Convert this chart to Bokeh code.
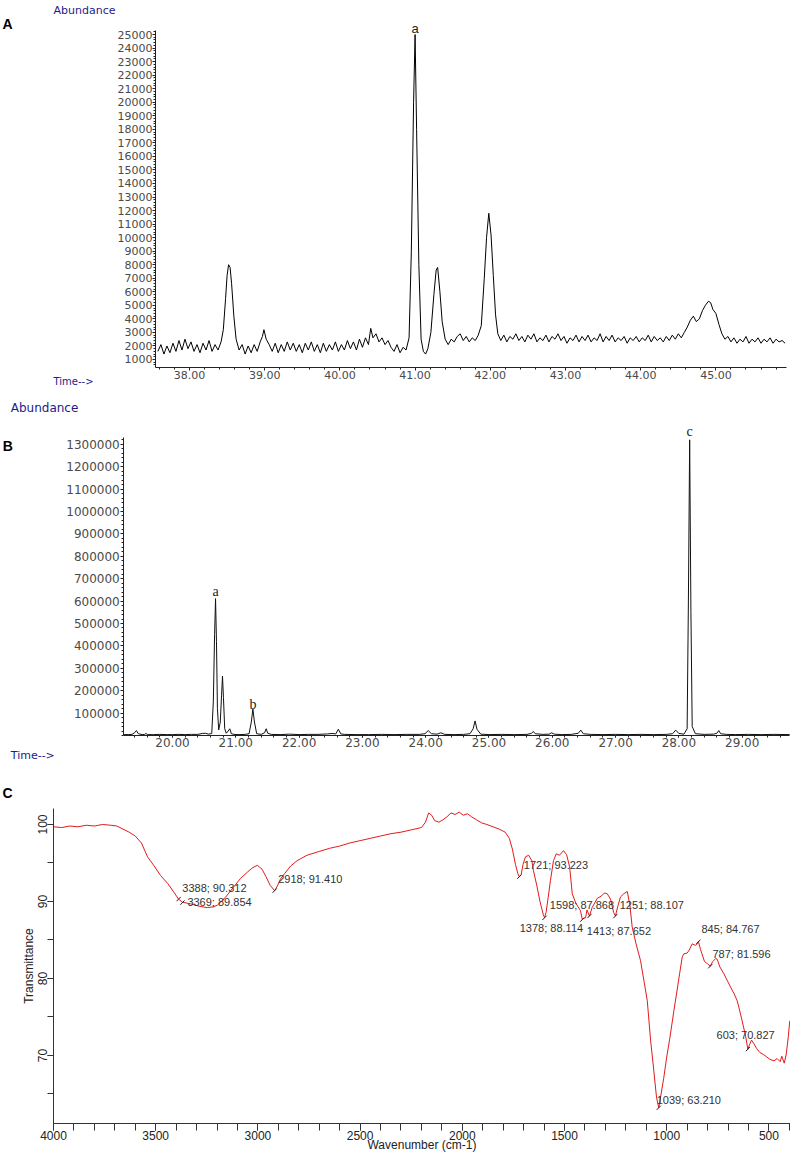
from bokeh.plotting import figure
from bokeh.layouts import column
from bokeh.models import (Range1d, SingleIntervalTicker, FixedTicker,
                          NumeralTickFormatter, Label)
from bokeh.embed import file_html
from bokeh.resources import INLINE
from bokeh.core.properties import value

# ---------------- Panel A : GC-MS chromatogram (38-46 min) ----------------
a_time = [
    37.58, 37.62, 37.66, 37.70, 37.74, 37.78, 37.82, 37.86, 37.90, 37.94,
    37.98, 38.02, 38.06, 38.10, 38.14, 38.18, 38.22, 38.26, 38.30, 38.34,
    38.38, 38.42, 38.45, 38.48, 38.50, 38.52, 38.54, 38.56, 38.59, 38.62,
    38.66, 38.70, 38.74, 38.78, 38.82, 38.86, 38.90, 38.94, 38.97, 38.99,
    39.02, 39.06, 39.10, 39.14, 39.18, 39.22, 39.26, 39.30, 39.34, 39.38,
    39.42, 39.46, 39.50, 39.54, 39.58, 39.62, 39.66, 39.70, 39.74, 39.78,
    39.82, 39.86, 39.90, 39.94, 39.98, 40.02, 40.06, 40.10, 40.14, 40.18,
    40.22, 40.26, 40.30, 40.34, 40.38, 40.41, 40.44, 40.48, 40.52, 40.56,
    40.60, 40.64, 40.68, 40.72, 40.76, 40.80, 40.84, 40.88, 40.92, 40.95,
    40.98, 41.00, 41.02, 41.05, 41.08, 41.11, 41.14, 41.17, 41.21, 41.25,
    41.28, 41.30, 41.33, 41.36, 41.40, 41.44, 41.48, 41.52, 41.56, 41.60,
    41.64, 41.68, 41.72, 41.76, 41.80, 41.84, 41.88, 41.92, 41.95, 41.98,
    42.01, 42.04, 42.07, 42.10, 42.14, 42.18, 42.22, 42.26, 42.30, 42.34,
    42.38, 42.42, 42.46, 42.50, 42.54, 42.58, 42.62, 42.66, 42.70, 42.74,
    42.78, 42.82, 42.86, 42.90, 42.94, 42.98, 43.02, 43.06, 43.10, 43.14,
    43.18, 43.22, 43.26, 43.30, 43.34, 43.38, 43.42, 43.46, 43.50, 43.54,
    43.58, 43.62, 43.66, 43.70, 43.74, 43.78, 43.82, 43.86, 43.90, 43.94,
    43.98, 44.02, 44.06, 44.10, 44.14, 44.18, 44.22, 44.26, 44.30, 44.34,
    44.38, 44.42, 44.46, 44.50, 44.54, 44.58, 44.62, 44.66, 44.70, 44.74,
    44.78, 44.82, 44.86, 44.90, 44.93, 44.96, 45.00, 45.04, 45.08, 45.12,
    45.16, 45.20, 45.24, 45.28, 45.32, 45.36, 45.40, 45.44, 45.48, 45.52,
    45.56, 45.60, 45.64, 45.68, 45.72, 45.76, 45.80, 45.84, 45.88, 45.92,
]
a_abund = [
    1600, 2100, 1400, 2000, 1500, 2200, 1600, 2400, 1700, 2500,
    1800, 2300, 1600, 2100, 1500, 2200, 1700, 2400, 1600, 2100,
    1700, 2300, 3200, 5500, 7200, 8000, 7800, 6600, 4200, 2500,
    1700, 2100, 1400, 2000, 1500, 2100, 1600, 2300, 2700, 3200,
    2500, 2100, 1600, 2200, 1500, 2100, 1600, 2300, 1700, 2200,
    1600, 2100, 1500, 2200, 1700, 2300, 1600, 2100, 1500, 2200,
    1600, 2100, 1700, 2300, 1600, 2100, 1700, 2400, 1800, 2300,
    1700, 2500, 1900, 2600, 2100, 3300, 2600, 2900, 2300, 2600,
    2100, 2400, 1900, 1600, 2100, 1500, 1900, 1700, 2600, 9000,
    20000, 25000, 18000, 8000, 2500, 1600, 1400, 1800, 3000, 5800,
    7600, 7800, 6000, 3800, 2500, 2100, 2500, 2300, 2700, 2900,
    2400, 2700, 2300, 2600, 2400, 2800, 3500, 7000, 10000, 11800,
    10200, 7200, 4300, 2900, 2400, 2800, 2300, 2700, 2500, 2900,
    2400, 2700, 2300, 2800, 2500, 2900, 2300, 2600, 2400, 2800,
    2300, 2700, 2500, 2900, 2400, 2700, 2200, 2600, 2400, 2800,
    2300, 2700, 2400, 2800, 2300, 2600, 2400, 2900, 2300, 2700,
    2400, 2800, 2300, 2600, 2400, 2700, 2200, 2600, 2400, 2700,
    2300, 2600, 2400, 2800, 2300, 2700, 2400, 2600, 2300, 2700,
    2400, 2800, 2500, 2900, 2600, 3000, 3400, 3900, 4200, 3800,
    4000, 4600, 5000, 5300, 5200, 4700, 4400, 3600, 2900, 2500,
    2700, 2300, 2600, 2200, 2500, 2300, 2700, 2200, 2500, 2300,
    2600, 2200, 2500, 2300, 2600, 2200, 2500, 2300, 2400, 2200,
]
a_peak_time = [41.00]
a_peak_abund = [25000]
a_peak_name = ["a"]

# ---------------- Panel B : GC-MS chromatogram (19-30 min) ----------------
b_time = [
    19.23, 19.30, 19.36, 19.40, 19.43, 19.46, 19.52, 19.56, 19.58, 19.61,
    19.70, 19.80, 19.90, 20.00, 20.10, 20.20, 20.30, 20.40, 20.47, 20.52,
    20.57, 20.62, 20.645, 20.665, 20.68, 20.695, 20.71, 20.73, 20.755, 20.775,
    20.79, 20.805, 20.825, 20.85, 20.88, 20.905, 20.93, 20.97, 21.05, 21.15,
    21.21, 21.245, 21.27, 21.295, 21.33, 21.40, 21.455, 21.48, 21.505, 21.56,
    21.70, 21.85, 22.00, 22.15, 22.30, 22.45, 22.52, 22.58, 22.62, 22.66,
    22.72, 22.90, 23.10, 23.30, 23.50, 23.70, 23.90, 23.99, 24.04, 24.09,
    24.18, 24.24, 24.30, 24.45, 24.60, 24.70, 24.75, 24.78, 24.81, 24.87,
    25.00, 25.20, 25.40, 25.60, 25.67, 25.70, 25.73, 25.85, 25.95, 25.99,
    26.03, 26.15, 26.30, 26.41, 26.45, 26.49, 26.60, 26.80, 27.00, 27.20,
    27.40, 27.60, 27.80, 27.90, 27.95, 28.00, 28.08, 28.13, 28.15, 28.17,
    28.19, 28.21, 28.26, 28.40, 28.55, 28.60, 28.63, 28.66, 28.75, 28.90,
    29.10, 29.30, 29.50, 29.75,
]
b_abund = [
    4000, 4000, 5000, 12000, 22000, 8000, 4000, 5000, 9000, 4000,
    4000, 5000, 4000, 4000, 5000, 4000, 5000, 5000, 9000, 10000,
    6000, 9000, 150000, 450000, 611000, 420000, 120000, 25000, 60000, 180000,
    265000, 170000, 30000, 10000, 20000, 30000, 8000, 5000, 4000, 5000,
    8000, 60000, 118000, 60000, 8000, 5000, 12000, 30000, 10000, 5000,
    4000, 6000, 4000, 5000, 5000, 7000, 9000, 7000, 28000, 7000,
    5000, 4000, 4000, 5000, 4000, 5000, 5000, 8000, 22000, 8000,
    6000, 12000, 5000, 4000, 5000, 8000, 30000, 65000, 28000, 6000,
    4000, 5000, 4000, 5000, 9000, 18000, 8000, 5000, 6000, 12000,
    6000, 4000, 5000, 10000, 24000, 8000, 5000, 4000, 5000, 4000,
    5000, 4000, 5000, 8000, 24000, 9000, 6000, 30000, 600000, 1320000,
    550000, 40000, 8000, 5000, 6000, 10000, 22000, 8000, 5000, 4000,
    5000, 4000, 5000, 4000,
]
b_peak_time = [20.68, 21.27, 28.17]
b_peak_abund = [611000, 118000, 1320000]
b_peak_name = ["a", "b", "c"]

# ---------------- Panel C : FTIR spectrum ----------------
c_wn = [
    4000, 3960, 3920, 3880, 3840, 3800, 3760, 3720, 3690, 3660,
    3630, 3600, 3570, 3540, 3510, 3477, 3440, 3411, 3388, 3369,
    3330, 3290, 3248, 3220, 3199, 3160, 3118, 3085, 3052, 3025,
    3003, 2980, 2960, 2940, 2918, 2905, 2890, 2870, 2840, 2808,
    2760, 2700, 2650, 2600, 2550, 2500, 2450, 2400, 2350, 2300,
    2250, 2200, 2180, 2165, 2150, 2135, 2115, 2095, 2075, 2055,
    2035, 2015, 1995, 1975, 1955, 1930, 1905, 1880, 1850, 1820,
    1790, 1770, 1755, 1740, 1728, 1721, 1712, 1703, 1691, 1675,
    1660, 1652, 1635, 1620, 1603, 1598, 1590, 1580, 1569, 1554,
    1540, 1525, 1505, 1490, 1475, 1462, 1445, 1422, 1413, 1397,
    1390, 1378, 1365, 1340, 1320, 1305, 1291, 1275, 1260, 1251,
    1240, 1226, 1210, 1193, 1180, 1169, 1150, 1128, 1110, 1095,
    1079, 1065, 1050, 1039, 1030, 1015, 1000, 985, 965, 949,
    937, 924, 916, 900, 892, 875, 860, 851, 845, 835,
    815, 800, 787, 775, 760, 753, 740, 720, 705, 688,
    670, 655, 640, 631, 614, 603, 595, 585, 575, 560,
    545, 525, 510, 495, 475, 460, 445, 437, 425, 415,
    405, 398,
]
c_trans = [
    99.7, 99.6, 99.8, 99.7, 99.9, 99.8, 100.0, 99.9, 99.8, 99.4,
    99.0, 98.5, 97.6, 95.8, 94.7, 93.4, 92.3, 91.2, 90.3, 89.9,
    89.7, 89.4, 89.2, 89.3, 89.5, 90.5, 91.9, 93.0, 93.8, 94.4,
    94.7, 94.2, 93.2, 92.1, 91.4, 92.0, 92.9, 93.6, 94.6, 95.3,
    96.0, 96.5, 96.9, 97.2, 97.6, 97.9, 98.2, 98.5, 98.8, 99.0,
    99.3, 99.6, 100.3, 101.5, 101.2, 100.5, 100.3, 100.6, 101.0, 101.5,
    101.3, 101.6, 101.2, 101.4, 101.0, 100.6, 100.2, 100.0, 99.7, 99.4,
    99.0, 98.2, 96.8, 94.8, 93.6, 93.2, 93.5, 94.8, 95.8, 96.0,
    95.3, 94.0, 92.0, 90.0, 88.2, 87.9, 88.6, 90.5, 92.7, 95.3,
    96.2, 96.0, 96.6, 96.1, 94.5, 91.0, 89.8, 88.8, 87.7, 87.9,
    88.9, 88.1, 89.2, 90.4, 90.7, 91.1, 91.0, 90.3, 88.6, 88.1,
    89.3, 90.6, 91.0, 91.3, 89.5, 86.7, 84.5, 82.3, 79.5, 77.1,
    72.0, 68.5, 64.6, 63.2, 64.6, 67.0, 69.8, 72.2, 75.8, 78.5,
    80.6, 82.8, 83.2, 83.3, 83.6, 84.5, 84.3, 84.5, 84.8, 83.8,
    82.2, 81.9, 81.6, 82.2, 82.6, 82.5, 81.5, 80.6, 79.8, 78.9,
    78.0, 77.1, 75.5, 74.5, 72.5, 70.8, 71.4, 72.0, 71.6, 70.9,
    70.4, 70.1, 69.8, 69.5, 69.3, 69.6, 69.2, 69.9, 69.0, 70.2,
    72.5, 74.5,
]
# peak annotations (each text holds "wavenumber; transmittance")
c_ann_text = ["3388; 90.312", "3369; 89.854", "2918; 91.410", "1721; 93.223",
              "1598; 87.868", "1251; 88.107", "1378; 88.114", "1413; 87.652",
              "845; 84.767", "787; 81.596", "603; 70.827", "1039; 63.210"]
c_ann_lab_wn = [3370, 3345, 2901, 1699, 1572, 1230, 1719, 1391, 830, 776, 756, 1049]
c_ann_lab_t = [91.8, 89.9, 92.9, 94.7, 89.6, 89.6, 86.6, 86.2, 86.4, 83.2, 72.7, 64.2]
c_mark_wn = [float(s.split("; ")[0]) for s in c_ann_text]
c_mark_t = [float(s.split("; ")[1]) for s in c_ann_text]

W = 790
NAVY = "#1c1c8a"
GREY = "#4a4a4a"


def base_fig(height, xr, yr):
    p = figure(width=W, height=height, x_range=xr, y_range=yr,
               output_backend="svg", toolbar_location=None, min_border=0)
    p.outline_line_color = None
    p.grid.visible = False
    p.background_fill_color = "white"
    p.border_fill_color = "white"
    return p


def place_axes(p, xloc, yloc, xb, yb):
    # axes drawn inside the frame at fixed data positions
    p.yaxis.fixed_location = xloc
    p.xaxis.fixed_location = yloc
    p.xaxis.bounds = xb
    p.yaxis.bounds = yb


def gc_axes(p, size):
    for ax in p.axis:
        ax.axis_line_color = "#222222"
        ax.axis_line_width = 1
        ax.major_tick_line_color = "#222222"
        ax.minor_tick_line_color = "#222222"
        ax.major_tick_in = 0
        ax.minor_tick_in = 0
        ax.major_tick_out = 3
        ax.minor_tick_out = 2
        ax.major_label_text_font = "DejaVu Sans"
        ax.major_label_text_font_size = size
        ax.major_label_text_color = GREY
        ax.major_label_standoff = 0


def txt(p, x, y, text, dx, dy, size="10px", color=NAVY, font="DejaVu Sans",
        style="normal", align="left", baseline="middle"):
    p.add_layout(Label(x=x, y=y, x_offset=dx, y_offset=dy, text=text,
                       text_font=font, text_font_size=size,
                       text_color=color, text_font_style=style,
                       text_align=align, text_baseline=baseline))


# ---- A ----
ax0, ax1, ay0, ay1 = 37.548, 45.939, 409, 25298
pA = base_fig(395, Range1d(35.487, 45.992), Range1d(-1659, 27514))
pA.line(a_time, a_abund, line_color="black", line_width=1)
place_axes(pA, ax0, ay0, (ax0, ax1), (ay0, ay1))
gc_axes(pA, "11px")
pA.yaxis.ticker = SingleIntervalTicker(interval=1000, num_minor_ticks=5)
pA.yaxis.formatter = NumeralTickFormatter(format="0")
pA.xaxis.ticker = SingleIntervalTicker(interval=1, num_minor_ticks=5)
pA.xaxis.formatter = NumeralTickFormatter(format="0.00")
pA.xaxis.major_label_standoff = 1
for t, v, n in zip(a_peak_time, a_peak_abund, a_peak_name):
    txt(pA, t, v, n, 0, 6, size="13px", color="#222222",
        font="Liberation Sans", align="center", baseline="alphabetic")
txt(pA, ax0, ay1, "A", -153, 7, size="14px", color="black",
    font="Liberation Sans", style="bold")
txt(pA, ax0, ay1, "Abundance", -102, 20, size="11px")
txt(pA, ax0, ay0, "Time-->", -102, -14, size="10px")

# ---- B ----
bx0, bx1, by0, by1 = 19.23, 29.75, 0, 1330000
pB = base_fig(375, Range1d(17.283, 29.763), Range1d(-156250, 1517857))
pB.line(b_time, b_abund, line_color="#111111", line_width=1)
place_axes(pB, bx0, by0, (bx0, bx1), (by0, by1))
gc_axes(pB, "12px")
pB.yaxis.ticker = FixedTicker(ticks=list(range(100000, 1300001, 100000)),
                              minor_ticks=list(range(0, 1330001, 20000)))
pB.yaxis.formatter = NumeralTickFormatter(format="0")
pB.yaxis.major_label_standoff = 1
pB.xaxis.ticker = SingleIntervalTicker(interval=1, num_minor_ticks=5)
pB.xaxis.formatter = NumeralTickFormatter(format="0.00")
pB.xaxis.major_tick_out = 2
for t, v, n, dy in zip(b_peak_time, b_peak_abund, b_peak_name, [7, 5, 8]):
    txt(pB, t, v, n, 0, dy, size="14px", color="#222222",
        font="Liberation Serif", align="center", baseline="alphabetic")
txt(pB, bx0, by1, "Abundance", -113, 30, size="12px")
txt(pB, bx0, by1, "B", -121, -8, size="14px", color="black",
    font="Liberation Sans", style="bold")
txt(pB, bx0, by0, "Time-->", -113, -20, size="11px")

# ---- C ----
cx0, cx1, cy0, cy1 = 4000, 395, 61.15, 102.1
pC = base_fig(382, Range1d(4259.3, 394.4), Range1d(57.40, 107.01))
pC.line(c_wn, c_trans, line_color="#e31a1c", line_width=1)
pC.scatter(c_mark_wn, c_mark_t, marker="dash", size=6, angle=0.8,
           line_color="#222222", line_width=1)
pC.text(c_ann_lab_wn, c_ann_lab_t, text=c_ann_text,
        text_font=value("Liberation Sans"), text_font_size="11px",
        text_color="#333333", text_align="left", text_baseline="middle")
place_axes(pC, cx0, cy0, (cx1, cx0), (cy0, cy1))
for ax in pC.axis:
    ax.axis_line_color = "#333333"
    ax.major_tick_line_color = "#333333"
    ax.minor_tick_line_color = "#333333"
    ax.major_tick_in = 0
    ax.minor_tick_in = 0
    ax.major_label_text_font = "Liberation Sans"
    ax.major_label_text_font_size = "12px"
    ax.major_label_text_color = "#222222"
    ax.axis_label_text_font = "Liberation Sans"
    ax.axis_label_text_font_size = "12px"
    ax.axis_label_text_font_style = "normal"
    ax.axis_label_text_color = "#222222"
pC.xaxis.ticker = SingleIntervalTicker(interval=500, num_minor_ticks=5)
pC.xaxis.major_tick_out = 7
pC.xaxis.minor_tick_out = 7
pC.xaxis.major_label_standoff = 0
pC.yaxis.ticker = SingleIntervalTicker(interval=10, num_minor_ticks=2)
pC.yaxis.major_tick_out = 6
pC.yaxis.minor_tick_out = 6
pC.yaxis.major_label_orientation = "vertical"
pC.yaxis.major_label_standoff = 0
pC.yaxis.axis_label = "Transmittance"
pC.yaxis.axis_label_standoff = 0
txt(pC, (cx0 + cx1) / 2, cy0, "Wavenumber (cm-1)", 0, -21, size="12px",
    color="#222222", font="Liberation Sans", align="center")
txt(pC, cx0, cy1, "C", -51, 15, size="14px", color="black",
    font="Liberation Sans", style="bold")

layout = column(pA, pB, pC, spacing=0)
open("out.html", "w").write(file_html(layout, INLINE))
